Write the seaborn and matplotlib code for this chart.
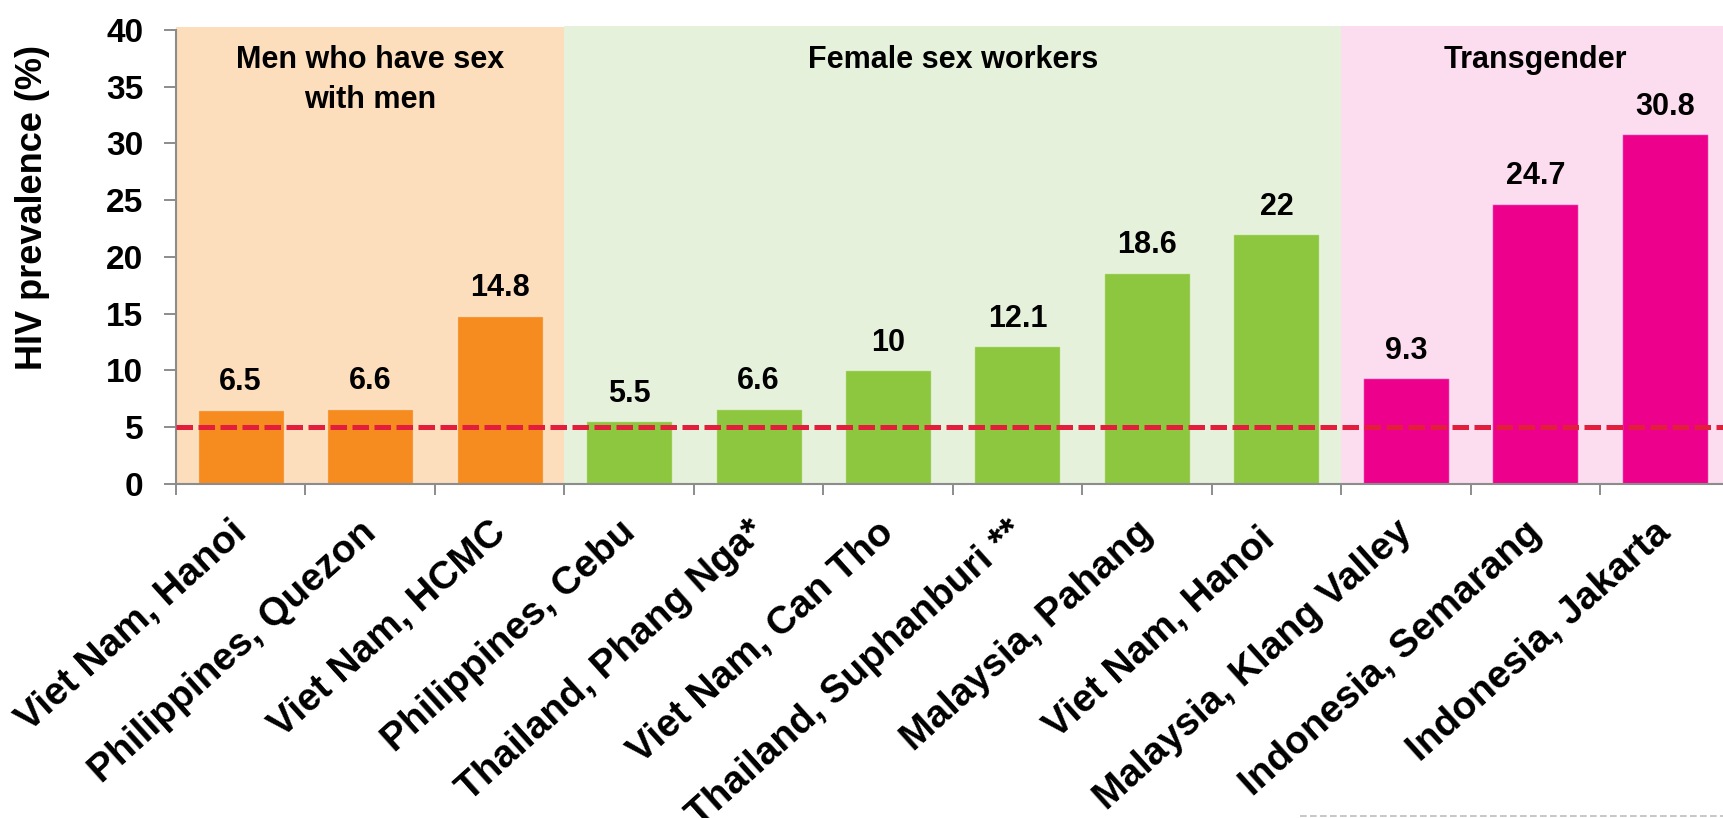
import pandas as pd
import matplotlib.pyplot as plt
import matplotlib.transforms as mtransforms
import seaborn as sns
from matplotlib.lines import Line2D

sns.set_style("white")
plt.rcParams['font.family'] = ['Liberation Sans', 'DejaVu Sans']
plt.rcParams['font.weight'] = 'bold'
plt.rcParams['text.color'] = 'black'
plt.rcParams['axes.labelcolor'] = 'black'
plt.rcParams['xtick.color'] = 'black'
plt.rcParams['ytick.color'] = 'black'

# ------------------ Data ------------------
sites = [
    "Viet Nam, Hanoi", "Philippines, Quezon", "Viet Nam, HCMC",
    "Philippines, Cebu", "Thailand, Phang Nga*", "Viet Nam, Can Tho",
    "Thailand, Suphanburi **", "Malaysia, Pahang", "Viet Nam, Hanoi ",
    "Malaysia, Klang Valley", "Indonesia, Semarang", "Indonesia, Jakarta",
]
prevalence = [6.5, 6.6, 14.8, 5.5, 6.6, 10, 12.1, 18.6, 22, 9.3, 24.7, 30.8]
groups = ["MSM"] * 3 + ["FSW"] * 6 + ["TG"] * 3

group_order = ["MSM", "FSW", "TG"]
group_titles = ["Men who have sex\nwith men", "Female sex workers", "Transgender"]
bar_colors = {"MSM": "#F68B1F", "FSW": "#8DC63F", "TG": "#EC008C"}
bg_colors = {"MSM": "#FCDDBC", "FSW": "#E5F1DA", "TG": "#FCDCEF"}
bg_tops = {"MSM": 40.24, "FSW": 40.4, "TG": 40.4}
threshold = 5

df = pd.DataFrame({"Site": sites, "Prevalence": prevalence, "Group": groups})

# ------------------ Plot ------------------
fig = plt.figure(figsize=(17.23, 8.18), dpi=100)
ax = fig.add_axes([0.1021, 0.4088, 0.9017, 0.56])
ymax = 40.4

# shaded group backgrounds + group titles
start = -0.5
for g, title in zip(group_order, group_titles):
    n = groups.count(g)
    end = start + n
    ax.axvspan(start, end, ymin=0, ymax=bg_tops[g] / ymax, color=bg_colors[g], lw=0, zorder=0)
    ax.text((start + end) / 2, 38.65, title, ha="center", va="top",
            fontsize=22, fontweight="bold", linespacing=1.42)
    start = end

sns.barplot(data=df, x="Site", y="Prevalence", hue="Group", palette=bar_colors,
            dodge=False, width=0.664, saturation=1, legend=False, ax=ax, zorder=2,
            edgecolor="#FFFFFF80", linewidth=1)

for c in ax.containers:
    ax.bar_label(c, fmt="{:g}", padding=9, fontsize=22, fontweight="bold")

ax.axhline(threshold, color="#E31D3C", lw=3.6, dashes=(3.3, 1.1), zorder=3)

ax.set_xlim(-0.5, len(sites) - 0.5)
ax.set_ylim(0, ymax)
ax.set_yticks(range(0, 41, 5))
ax.tick_params(axis="y", labelsize=24, length=8.6, width=1.4, color="#8C8C8C", pad=15, left=True)
ax.set_xticks([i - 0.5 for i in range(len(sites) + 1)], minor=True)
ax.tick_params(axis="x", which="minor", length=8, width=1.4, color="#8C8C8C", bottom=True)
ax.tick_params(axis="x", which="major", length=0, pad=22)
ax.set_xticklabels(sites, rotation=42, ha="right", va="top", rotation_mode="anchor", fontsize=28)
shift = mtransforms.ScaledTranslation(-0.11, 0, fig.dpi_scale_trans)
for lbl in ax.get_xticklabels():
    lbl.set_transform(lbl.get_transform() + shift)

for side in ["top", "right"]:
    ax.spines[side].set_visible(False)
for side in ["left", "bottom"]:
    ax.spines[side].set_color("#8C8C8C")
    ax.spines[side].set_linewidth(1.5)
ax.spines["left"].set_bounds(0, 40)

ax.set_xlabel("")
ax.set_ylabel("HIV prevalence (%)", fontsize=26, fontweight="bold")
ax.yaxis.set_label_coords(-0.081, 0.602)

# dashed frame edge at the lower right of the slide
fig.add_artist(Line2D([1300 / 1723, 1.0], [0.0025, 0.0025], transform=fig.transFigure,
                      color="#BDBDBD", lw=1.2, ls=(0, (4, 2))))

fig.savefig("out.png", dpi=100)
